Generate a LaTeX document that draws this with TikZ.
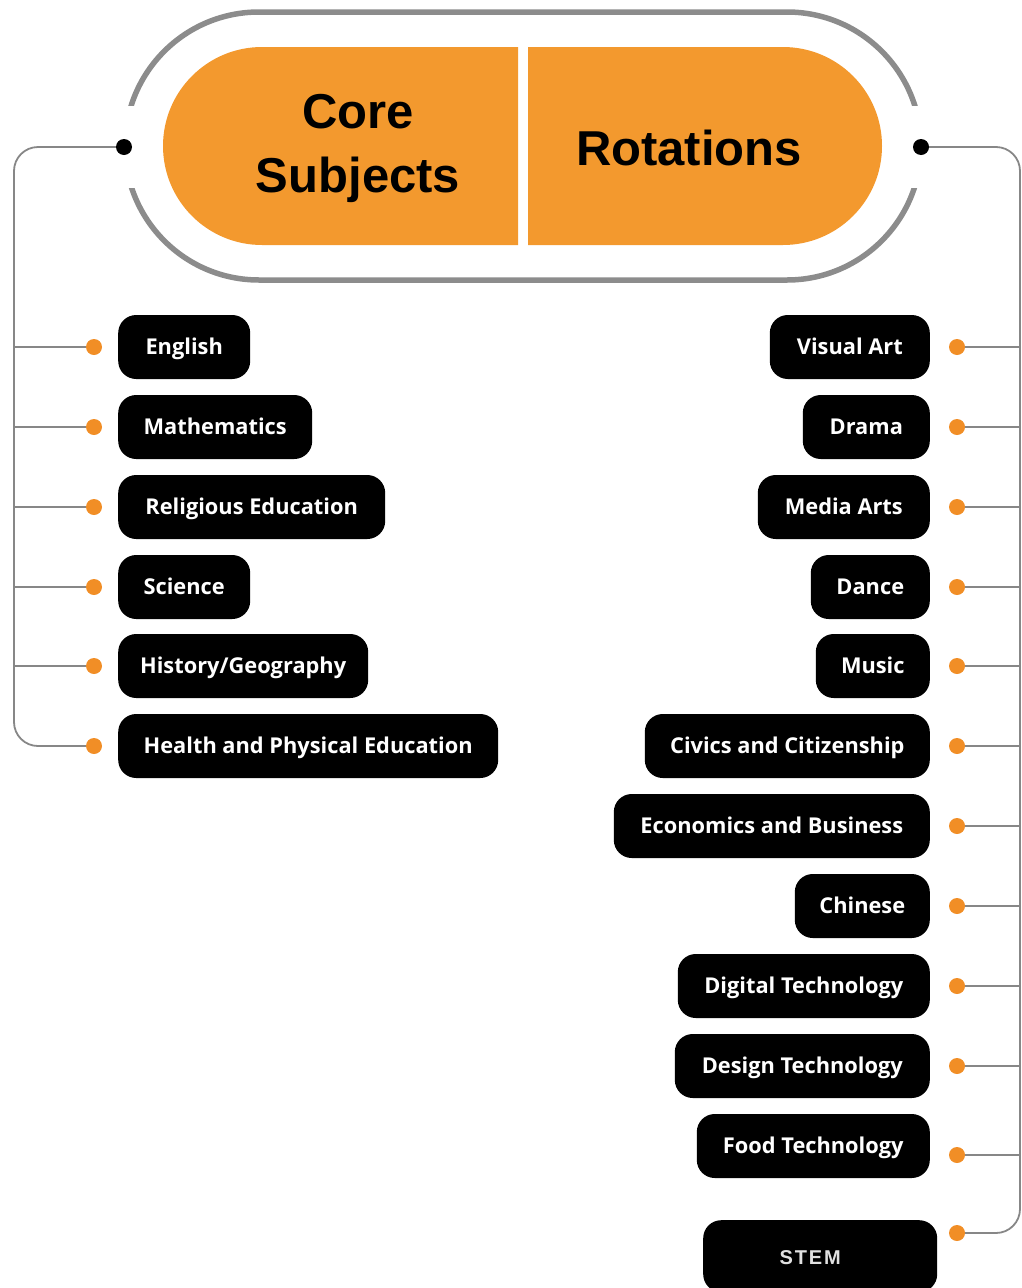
\documentclass[tikz,border=0pt]{standalone}
\usepackage{fontspec}
\usetikzlibrary{shapes.misc}
\newfontfamily\headfont{Liberation Sans}
\newfontfamily\subjfamily{Open Sans}
\newfontfamily\stemfamily[LetterSpace=9]{Liberation Sans}
\definecolor{pillorange}{RGB}{243,153,46}
\definecolor{dotorange}{RGB}{241,142,38}
\definecolor{framegray}{RGB}{140,140,140}
\definecolor{linegray}{RGB}{135,135,135}
\definecolor{stemgray}{RGB}{225,225,225}
\tikzset{
  subj/.style={fill=black, text=white, rounded corners=18pt, minimum height=64pt,
    inner sep=0pt, text height=20.6pt, text depth=5pt,
    font=\subjfamily\bfseries\fontsize{21.8}{24}\selectfont},
  odot/.style={circle, fill=dotorange, inner sep=0pt, minimum size=16pt},
  kdotstyle/.style={circle, fill=black, inner sep=0pt, minimum size=16pt},
  link/.style={draw=linegray, line width=1.8pt},
  trunk/.style={link, rounded corners=24pt},
  halfpill/.style={rounded rectangle, fill=pillorange, minimum height=198pt, inner sep=0pt},
  headtext/.style={font=\headfont\bfseries\fontsize{49}{64}\selectfont, text=black, align=center}
}
\begin{document}
\begin{tikzpicture}[x=1pt,y=-1pt]
\useasboundingbox (0,0) rectangle (1022,1288);
% frame
\node[draw=framegray, line width=5.5pt, rounded rectangle, minimum width=796pt,
  minimum height=268pt, inner sep=0pt] (frame) at (523,146) {};
\fill[white] (106,106) rectangle (144,188);
\fill[white] (902,106) rectangle (940,188);
% orange pill
\node[halfpill, rounded rectangle right arc=none, minimum width=355pt] (core) at (340.5,146) {};
\node[halfpill, rounded rectangle left arc=none, minimum width=354pt] (rot) at (705,146) {};
\node[headtext] (coretxt) at (358,148) {Core\\Subjects};
\node[headtext] (rottxt) at (689,148) {Rotations};
% black dots
\node[kdotstyle] (kdot) at (124,147) {};
\node[kdotstyle] (rdot) at (921,147) {};
% left subjects
\foreach \nm/\w/\y/\txt in {
  english/132/347/English,
  maths/194/427/Mathematics,
  religious/267/507/Religious Education,
  science/132/587/Science,
  history/250/666/History\slash Geography,
  health/380/746/Health and Physical Education}{
  \node[subj, minimum width=\w pt, anchor=west] (\nm) at (118,\y) {\txt};
  \node[odot] (d\nm) at (94,\y) {};
}
\coordinate (lc1) at (14,147);
\coordinate (lc2) at (14,746);
\draw[trunk] (kdot) -- (lc1) -- (lc2) -- (dhealth);
\foreach \nm in {english,maths,religious,science,history}{
  \draw[link] (lc1 |- d\nm) -- (d\nm);
}
% right subjects
\foreach \nm/\w/\y/\dy/\txt in {
  visual/160/347/347/Visual Art,
  drama/127/427/427/Drama,
  media/172/507/507/Media Arts,
  dance/119/587/587/Dance,
  music/114/666/666/Music,
  civics/285/746/746/Civics and Citizenship,
  economics/316/826/826/Economics and Business,
  chinese/135/906/906/Chinese,
  digital/252/986/986/Digital Technology,
  design/255/1066/1066/Design Technology,
  food/233/1146/1155/Food Technology}{
  \node[subj, minimum width=\w pt, anchor=east] (\nm) at (930,\y) {\txt};
  \node[odot] (d\nm) at (957,\dy) {};
}
\node[subj, minimum width=234pt, minimum height=72pt, anchor=north west,
  font=\stemfamily\bfseries\fontsize{20}{24}\selectfont, text=stemgray] (stem) at (703,1220) {STEM\hspace*{20pt}};
\node[odot] (dstem) at (957,1233) {};
\coordinate (rc1) at (1020,147);
\coordinate (rc2) at (1020,1233);
\draw[trunk] (rdot) -- (rc1) -- (rc2) -- (dstem);
\foreach \nm in {visual,drama,media,dance,music,civics,economics,chinese,digital,design,food}{
  \draw[link] (d\nm) -- (rc1 |- d\nm);
}
\end{tikzpicture}
\end{document}
